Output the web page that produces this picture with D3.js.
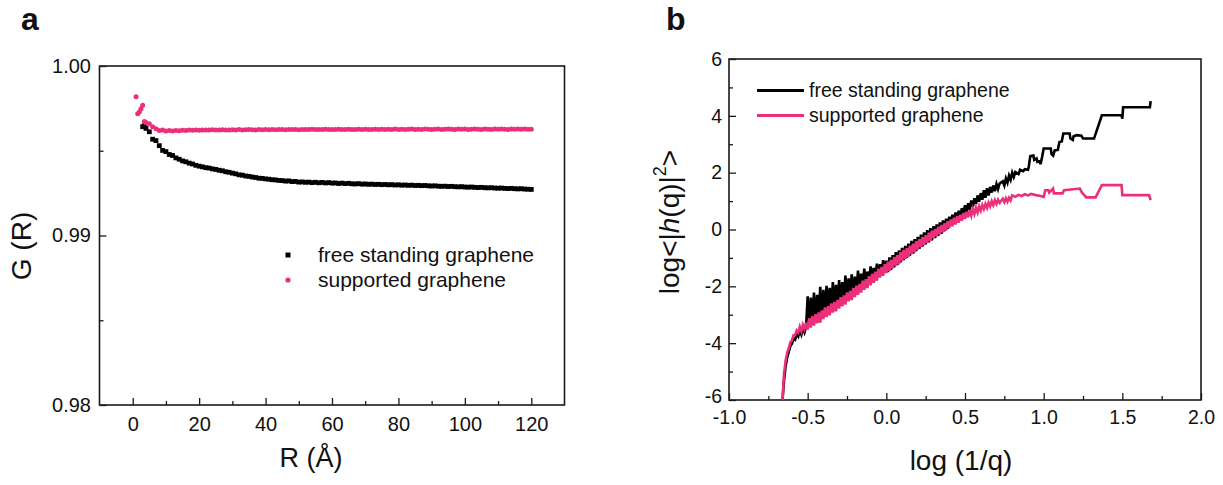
<!DOCTYPE html>
<html>
<head>
<meta charset="utf-8">
<script src="https://d3js.org/d3.v7.min.js"></script>
<style>
body { margin: 0; background: #fff; }
svg text { font-family: "Liberation Sans", Arial, sans-serif; fill: #111; }
</style>
</head>
<body>
<script>
// ---- panel a : G(R) ----
var rA = [1, 1.5, 2, 2.5, 3, 3.5, 4,
  5, 6, 7, 8, 9, 10, 11, 12, 13, 14, 15, 16, 17, 18, 19, 20,
  21, 22, 23, 24, 25, 26, 27, 28, 29, 30, 31, 32, 33, 34, 35, 36, 37, 38, 39, 40,
  41, 42, 43, 44, 45, 46, 47, 48, 49, 50, 51, 52, 53, 54, 55, 56, 57, 58, 59, 60,
  61, 62, 63, 64, 65, 66, 67, 68, 69, 70, 71, 72, 73, 74, 75, 76, 77, 78, 79, 80,
  81, 82, 83, 84, 85, 86, 87, 88, 89, 90, 91, 92, 93, 94, 95, 96, 97, 98, 99, 100,
  101, 102, 103, 104, 105, 106, 107, 108, 109, 110, 111, 112, 113, 114, 115, 116, 117, 118, 119, 120];

var gSupported = [0.99818, 0.99718, 0.99728, 0.99748, 0.99768, 0.99672, 0.99666,
  0.99660, 0.99642, 0.99630, 0.99619, 0.99623, 0.99616, 0.99619, 0.99617, 0.99620, 0.99618, 0.99621,
  0.99620, 0.99622, 0.99621, 0.99623, 0.99621, 0.99622, 0.99623, 0.99622, 0.99624, 0.99622,
  0.99623, 0.99624, 0.99623, 0.99622, 0.99624, 0.99623, 0.99625, 0.99623, 0.99624, 0.99625,
  0.99624, 0.99623, 0.99625, 0.99624, 0.99626, 0.99624, 0.99625, 0.99624, 0.99626, 0.99625,
  0.99624, 0.99626, 0.99625, 0.99626, 0.99624, 0.99625, 0.99626, 0.99625, 0.99627, 0.99625,
  0.99626, 0.99625, 0.99627, 0.99626, 0.99625, 0.99626, 0.99627, 0.99625, 0.99626, 0.99627,
  0.99626, 0.99625, 0.99627, 0.99626, 0.99627, 0.99626, 0.99625, 0.99627, 0.99626, 0.99627,
  0.99626, 0.99627, 0.99626, 0.99628, 0.99626, 0.99627, 0.99626, 0.99627, 0.99628, 0.99626,
  0.99627, 0.99626, 0.99628, 0.99627, 0.99626, 0.99627, 0.99628, 0.99626, 0.99627, 0.99628,
  0.99627, 0.99626, 0.99628, 0.99627, 0.99628, 0.99626, 0.99627, 0.99628, 0.99627, 0.99626,
  0.99628, 0.99627, 0.99626, 0.99628, 0.99627, 0.99628, 0.99627, 0.99626, 0.99628, 0.99627,
  0.99628, 0.99627, 0.99628, 0.99627, 0.99627];

var gFree = [null, null, null, null, 0.99642, 0.99648, 0.99632,
  0.99612, 0.99568, 0.99560, 0.99530, 0.99502, 0.99495, 0.99478, 0.99472, 0.99458, 0.99450, 0.99440,
  0.99435, 0.99427, 0.99422, 0.99414, 0.99409,
  0.99405, 0.99400, 0.99398, 0.99393, 0.99390, 0.99385, 0.99382, 0.99376, 0.99373, 0.99368,
  0.99364, 0.99358, 0.99356, 0.99351, 0.99349, 0.99345, 0.99342, 0.99338, 0.99337, 0.99334,
  0.99332, 0.99329, 0.99328, 0.99325, 0.99324, 0.99321, 0.99322, 0.99318, 0.99319, 0.99315,
  0.99316, 0.99314, 0.99315, 0.99312, 0.99314, 0.99311, 0.99313, 0.99310, 0.99312, 0.99309,
  0.99310, 0.99307, 0.99309, 0.99306, 0.99308, 0.99305, 0.99304, 0.99306, 0.99303, 0.99304,
  0.99302, 0.99303, 0.99301, 0.99302, 0.99300, 0.99301, 0.99299, 0.99300, 0.99298, 0.99299,
  0.99297, 0.99298, 0.99296, 0.99297, 0.99295, 0.99296, 0.99294, 0.99295, 0.99293, 0.99292,
  0.99293, 0.99291, 0.99290, 0.99291, 0.99289, 0.99290, 0.99288, 0.99287, 0.99288, 0.99286,
  0.99285, 0.99286, 0.99284, 0.99283, 0.99284, 0.99282, 0.99281, 0.99282, 0.99280, 0.99279,
  0.99280, 0.99278, 0.99277, 0.99278, 0.99276, 0.99275, 0.99276, 0.99274, 0.99273, 0.99272];

var aXTicks = [0, 20, 40, 60, 80, 100, 120], aXMinor = [10, 30, 50, 70, 90, 110];
var aYTicks = [0.98, 0.99, 1.00], aYMinor = [0.985, 0.995];

// ---- panel b : log<|h(q)|^2> vs log(1/q) ----
var logInvQ = [-0.66, -0.65, -0.64, -0.63, -0.62, -0.61, -0.60, -0.59, -0.58, -0.57,
  -0.56, -0.55, -0.54, -0.53, -0.52, -0.51, -0.50, -0.49, -0.48, -0.47,
  -0.46, -0.45, -0.44, -0.43, -0.42, -0.41, -0.40, -0.39, -0.38, -0.37,
  -0.36, -0.35, -0.34, -0.33, -0.32, -0.31, -0.30, -0.29, -0.28, -0.27,
  -0.26, -0.25, -0.24, -0.23, -0.22, -0.21, -0.20, -0.19, -0.18, -0.17,
  -0.16, -0.15, -0.14, -0.13, -0.12, -0.11, -0.10, -0.09, -0.08, -0.07,
  -0.06, -0.05, -0.04, -0.03, -0.02, -0.01, 0.00, 0.01, 0.02, 0.03,
  0.04, 0.05, 0.06, 0.07, 0.08, 0.09, 0.10, 0.11, 0.12, 0.13,
  0.14, 0.15, 0.16, 0.17, 0.18, 0.19, 0.20, 0.21, 0.22, 0.23,
  0.24, 0.25, 0.26, 0.27, 0.28, 0.29, 0.30, 0.31, 0.32, 0.33,
  0.34, 0.35, 0.36, 0.37, 0.38, 0.39, 0.40, 0.41, 0.42, 0.43,
  0.44, 0.45, 0.46, 0.47, 0.48, 0.49, 0.50, 0.51, 0.52, 0.53,
  0.54, 0.55, 0.56, 0.57, 0.58, 0.59, 0.60, 0.61, 0.62, 0.63,
  0.64, 0.65, 0.66, 0.67, 0.68, 0.69, 0.70, 0.71, 0.72];

var hFree = [-6.0, -5.3, -4.8, -4.5, -4.3, -4.1, -4.02, -3.85, -3.88, -3.68,
  -3.76, -3.55, -3.7, -3.47, -3.62, -3.42, -2.35, -3.3, -2.4, -3.25,
  -2.22, -3.2, -2.3, -3.1, -2.02, -3.05, -2.12, -2.95, -1.98, -2.9,
  -2.05, -2.82, -1.85, -2.75, -1.95, -2.68, -1.78, -2.6, -1.85, -2.5,
  -1.62, -2.45, -1.72, -2.35, -1.58, -2.28, -1.66, -2.2, -1.45, -2.1,
  -1.55, -2.02, -1.38, -1.95, -1.48, -1.86, -1.3, -1.78, -1.35, -1.7,
  -1.2, -1.6, -1.22, -1.52, -1.08, -1.45, -1.1, -1.5, -0.98, -1.42,
  -0.9, -1.33, -0.8, -1.25, -0.74, -1.16, -0.65, -1.08, -0.58, -1.0,
  -0.5, -0.92, -0.4, -0.85, -0.34, -0.76, -0.26, -0.68, -0.18, -0.6,
  -0.1, -0.52, -0.02, -0.45, 0.05, -0.38, 0.12, -0.3, 0.18, -0.22,
  0.25, -0.15, 0.32, -0.06, 0.38, 0.02, 0.45, 0.22, 0.52, 0.3,
  0.6, 0.38, 0.66, 0.45, 0.75, 0.55, 0.85, 0.62, 0.92, 0.7,
  1.02, 0.8, 1.1, 0.9, 1.2, 0.98, 1.28, 1.05, 1.38, 1.12,
  1.45, 1.2, 1.5, 1.3, 1.55, 1.35, 1.6, 1.42, 1.62];

var hSupported = [-6.0, -5.05, -4.62, -4.33, -4.18, -3.96, -3.9, -3.72, -3.72, -3.55,
  -3.62, -3.42, -3.58, -3.35, -3.5, -3.28, -3.52, -3.12, -3.45, -3.05,
  -3.38, -2.98, -3.3, -2.92, -3.28, -2.85, -3.15, -2.74, -3.08, -2.7,
  -3.02, -2.6, -2.92, -2.55, -2.88, -2.48, -2.78, -2.38, -2.7, -2.32,
  -2.64, -2.22, -2.53, -2.16, -2.48, -2.06, -2.38, -1.98, -2.3, -1.92,
  -2.22, -1.8, -2.12, -1.75, -2.06, -1.64, -1.96, -1.56, -1.88, -1.49,
  -1.8, -1.38, -1.69, -1.32, -1.63, -1.22, -1.53, -1.13, -1.45, -1.06,
  -1.37, -0.97, -1.27, -0.9, -1.22, -0.8, -1.1, -0.72, -1.03, -0.66,
  -0.97, -0.57, -0.86, -0.5, -0.8, -0.41, -0.7, -0.34, -0.62, -0.26,
  -0.55, -0.2, -0.47, -0.11, -0.4, -0.04, -0.3, 0.02, -0.24, 0.1,
  -0.17, 0.16, -0.1, 0.22, -0.03, 0.29, 0.05, 0.35, 0.11, 0.41,
  0.18, 0.47, 0.24, 0.52, 0.31, 0.58, 0.37, 0.62, 0.43, 0.68,
  0.49, 0.73, 0.55, 0.77, 0.6, 0.82, 0.66, 0.86, 0.72, 0.9,
  0.76, 0.95, 0.82, 1.0, 0.86, 1.03, 0.9, 1.05, 0.94];

// sparse long-wavelength end (few q values, stepped look)
var freeTailX = [0.74, 0.75, 0.76, 0.77, 0.78, 0.79, 0.80, 0.81, 0.82, 0.84,
  0.85, 0.87, 0.88, 0.90, 0.905, 0.915, 0.935, 0.94, 0.955, 0.96,
  0.975, 0.98, 0.99, 1.0, 1.045, 1.05, 1.06, 1.07, 1.09, 1.1,
  1.115, 1.125, 1.165, 1.17, 1.185, 1.19, 1.21, 1.24, 1.25, 1.32,
  1.37, 1.495, 1.5, 1.505, 1.675, 1.68];
var freeTailY = [1.7, 1.55, 1.8, 1.65, 1.9, 1.75, 2.0, 1.85, 2.02, 1.95,
  2.1, 2.05, 2.12, 2.1, 2.2, 2.58, 2.6, 2.45, 2.5, 2.38,
  2.4, 2.3, 2.55, 2.85, 2.85, 2.65, 2.6, 2.78, 2.8, 3.08,
  3.1, 3.38, 3.38, 3.2, 3.15, 3.28, 3.32, 3.3, 3.2, 3.2,
  4.02, 4.02, 3.9, 4.3, 4.3, 4.52];
var suppTailX = [0.74, 0.75, 0.76, 0.77, 0.78, 0.79, 0.80, 0.82, 0.84, 0.86,
  0.88, 0.90, 0.92, 0.95, 0.98, 1.0, 1.01, 1.03, 1.035, 1.06,
  1.065, 1.12, 1.13, 1.23, 1.24, 1.27, 1.33, 1.37, 1.495, 1.5,
  1.67, 1.68];
var suppTailY = [1.08, 0.96, 1.1, 0.98, 1.12, 1.02, 1.2, 1.15, 1.22, 1.18,
  1.24, 1.2, 1.25, 1.21, 1.18, 1.15, 1.38, 1.38, 1.3, 1.44,
  1.27, 1.27, 1.38, 1.44, 1.33, 1.13, 1.13, 1.56, 1.56, 1.21,
  1.21, 1.03];

var bXTicks = [-1.0, -0.5, 0.0, 0.5, 1.0, 1.5, 2.0], bXMinor = [-0.75, -0.25, 0.25, 0.75, 1.25, 1.75];
var bYTicks = [-6, -4, -2, 0, 2, 4, 6], bYMinor = [-5, -3, -1, 1, 3, 5];

var seriesNames = ["free standing graphene", "supported graphene"];
var pink = "#ec2f7b";

var svg = d3.select("body").append("svg")
  .attr("width", 1223)
  .attr("height", 485);

// plain hyphen for negatives, as in the original figure
function fmt(spec) {
  var f = d3.format(spec);
  return function(d) { return f(d).replace("\u2212", "-"); };
}

// frame + inward ticks for one panel
function frame(x, y, xt, xm, yt, ym, xfmt, yfmt, fs, xpad, ypad) {
  var g = svg.append("g");
  var x0 = x.range()[0], x1 = x.range()[1], y0 = y.range()[0], y1 = y.range()[1];
  g.append("g").attr("transform", "translate(0," + y0 + ")")
    .call(d3.axisBottom(x).tickValues(xt).tickFormat(xfmt).tickSizeInner(-7).tickSizeOuter(0).tickPadding(xpad));
  g.append("g").attr("transform", "translate(0," + y0 + ")")
    .call(d3.axisBottom(x).tickValues(xm).tickFormat("").tickSizeInner(-4).tickSizeOuter(0));
  var left = g.append("g").attr("transform", "translate(" + x0 + ",0)")
    .call(d3.axisLeft(y).tickValues(yt).tickFormat(yfmt).tickSizeInner(-7).tickSizeOuter(0).tickPadding(ypad));
  g.append("g").attr("transform", "translate(" + x0 + ",0)")
    .call(d3.axisLeft(y).tickValues(ym).tickFormat("").tickSizeInner(-4).tickSizeOuter(0));
  g.selectAll(".domain").remove();
  g.selectAll(".tick line").attr("stroke", "#1a1a1a").attr("stroke-width", 1.3);
  g.selectAll(".tick text").attr("font-size", fs).attr("fill", "#111")
    .attr("font-family", "'Liberation Sans', Arial, sans-serif");
  g.append("rect")
    .attr("x", x0).attr("y", y1)
    .attr("width", x1 - x0).attr("height", y0 - y1)
    .attr("fill", "none").attr("stroke", "#1a1a1a").attr("stroke-width", 1.6);
  return left;
}

// ---------- panel a ----------
var xa = d3.scaleLinear().domain([-10, 130]).range([99.5, 564.5]);
var ya = d3.scaleLinear().domain([0.98, 1.0]).range([405, 66]);
frame(xa, ya, aXTicks, aXMinor, aYTicks, aYMinor, fmt("d"), fmt(".2f"), 20, 11.5, 8.5);

var freePts = rA.map(function(r, i) { return [r, gFree[i]]; }).filter(function(d) { return d[1] != null; });
var suppPts = rA.map(function(r, i) { return [r, gSupported[i]]; });

svg.append("g").selectAll("rect")
  .data(freePts).enter().append("rect")
  .attr("x", function(d) { return xa(d[0]) - 2.4; })
  .attr("y", function(d) { return ya(d[1]) - 2.4; })
  .attr("width", 4.8).attr("height", 4.8)
  .attr("fill", "#000");
svg.append("g").selectAll("circle")
  .data(suppPts).enter().append("circle")
  .attr("cx", function(d) { return xa(d[0]); })
  .attr("cy", function(d) { return ya(d[1]); })
  .attr("r", 2.5)
  .attr("fill", pink);

// legend a
svg.append("rect").attr("x", 285.5).attr("y", 252.5).attr("width", 5).attr("height", 5).attr("fill", "#000");
svg.append("circle").attr("cx", 288).attr("cy", 280).attr("r", 2.6).attr("fill", pink);
svg.append("text").attr("x", 318).attr("y", 261.5).attr("font-size", 21).text(seriesNames[0]);
svg.append("text").attr("x", 318).attr("y", 286.5).attr("font-size", 21).text(seriesNames[1]);

// axis titles a
svg.append("text").attr("x", 311).attr("y", 467).attr("text-anchor", "middle")
  .attr("font-size", 27).text("R (Å)");
svg.append("text").attr("transform", "translate(31,246) rotate(-90)").attr("text-anchor", "middle")
  .attr("font-size", 28).text("G (R)");

// ---------- panel b ----------
var xb = d3.scaleLinear().domain([-1, 2]).range([729, 1201]);
var yb = d3.scaleLinear().domain([-6, 6]).range([400, 59]);
var leftB = frame(xb, yb, bXTicks, bXMinor, bYTicks, bYMinor, fmt(".1f"), fmt("d"), 19.5, 10.5, 7);
// lift the bottom y label a little so it clears the "-1.0" below it
leftB.selectAll(".tick text").filter(function(d) { return d === -6; }).attr("dy", "0.12em");

var line = d3.line()
  .x(function(d) { return xb(d[0]); })
  .y(function(d) { return yb(d[1]); });

var freeB = logInvQ.map(function(u, i) { return [u, hFree[i]]; })
  .concat(freeTailX.map(function(u, i) { return [u, freeTailY[i]]; }));
var suppB = logInvQ.map(function(u, i) { return [u, hSupported[i]]; })
  .concat(suppTailX.map(function(u, i) { return [u, suppTailY[i]]; }));

svg.append("path").datum(freeB).attr("d", line)
  .attr("fill", "none").attr("stroke", "#000").attr("stroke-width", 2.6).attr("stroke-linejoin", "miter");
svg.append("path").datum(suppB).attr("d", line)
  .attr("fill", "none").attr("stroke", pink).attr("stroke-width", 2.6).attr("stroke-linejoin", "miter");

// legend b
svg.append("line").attr("x1", 757).attr("x2", 804).attr("y1", 90.5).attr("y2", 90.5)
  .attr("stroke", "#000").attr("stroke-width", 3);
svg.append("line").attr("x1", 757).attr("x2", 804).attr("y1", 115.5).attr("y2", 115.5)
  .attr("stroke", pink).attr("stroke-width", 3);
svg.append("text").attr("x", 809).attr("y", 97).attr("font-size", 19.5).text(seriesNames[0]);
svg.append("text").attr("x", 809).attr("y", 122).attr("font-size", 19.5).text(seriesNames[1]);

// axis titles b
svg.append("text").attr("x", 961).attr("y", 470).attr("text-anchor", "middle")
  .attr("font-size", 28).text("log (1/q)");
var yt = svg.append("text").attr("transform", "translate(679,222) rotate(-90)")
  .attr("text-anchor", "middle").attr("font-size", 28);
yt.append("tspan").text("log<|");
yt.append("tspan").attr("font-style", "italic").text("h");
yt.append("tspan").text("(q)|");
yt.append("tspan").attr("font-size", 18).attr("dy", "-0.75em").text("2");
yt.append("tspan").attr("dy", "0.48em").text(">");

// panel letters
svg.append("text").attr("x", 21).attr("y", 29.5).attr("font-size", 32)
  .attr("font-weight", "bold").text("a");
svg.append("text").attr("x", 666).attr("y", 29.5).attr("font-size", 32)
  .attr("font-weight", "bold").text("b");
</script>
</body>
</html>
